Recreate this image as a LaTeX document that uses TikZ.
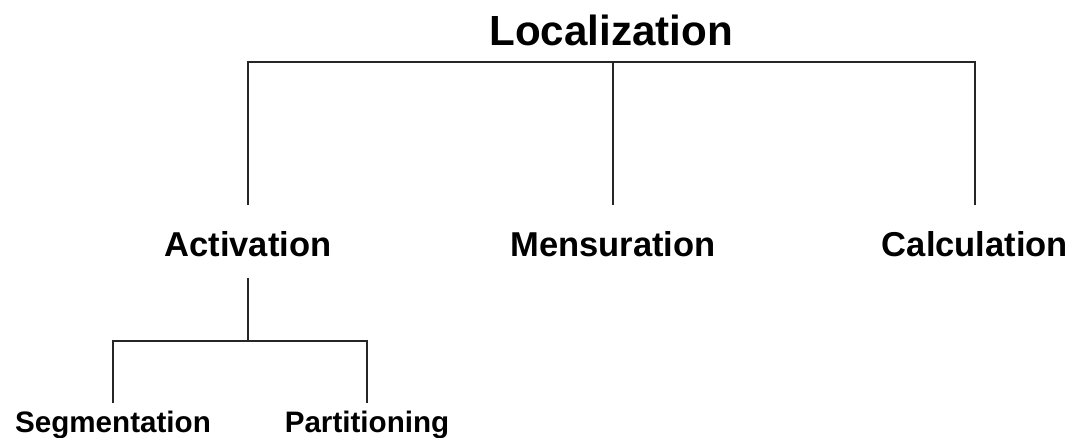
\documentclass[tikz,border=0pt]{standalone}
\usepackage{fontspec}
\setmainfont{Liberation Sans}
\usepackage{tikz}

\begin{document}
\begin{tikzpicture}[x=0.75pt,y=0.75pt,yscale=-1,xscale=1,
	toplabel/.style={anchor=base, inner xsep=0pt, inner ysep=12.75pt, text depth=0pt, font={\fontsize{31.6}{36}\selectfont\bfseries}},
	midlabel/.style={anchor=base, inner xsep=0pt, inner ysep=16pt, text height=22.3pt, text depth=0pt, font={\fontsize{25.9}{30}\selectfont\bfseries}},
	lowlabel/.style={anchor=base, inner xsep=0pt, inner ysep=4.5pt, text height=17.25pt, text depth=0pt, font={\fontsize{22.2}{26}\selectfont\bfseries}},
	branch/.style={draw=black!85, line width=1.2pt}]
				\useasboundingbox (0,0) rectangle (1072,437);
				
				% Text Nodes
				\node [toplabel] (loc) at (611,45) {Localization};
				\node [midlabel] (act) at (248,256) {Activation};
				\node [midlabel] (mens) at (613,256) {Mensuration};
				\node [midlabel] (calc) at (975,256) {Calculation};
				\node [lowlabel] (seg) at (113,432) {Segmentation};
				\node [lowlabel] (part) at (367,432) {Partitioning};
				
				%Straight Lines: first level
				\draw [branch] (act.north) |- (loc.south) -| (calc.north);
				\draw [branch] (mens.north) -- (mens.north |- loc.south);
				
				%Straight Lines: second level
				\coordinate (actbar) at (248,341);
				\draw [branch] (act.south) -- (actbar);
				\draw [branch] (seg.north) |- (actbar) -| (part.north);
				
\end{tikzpicture}
\end{document}
